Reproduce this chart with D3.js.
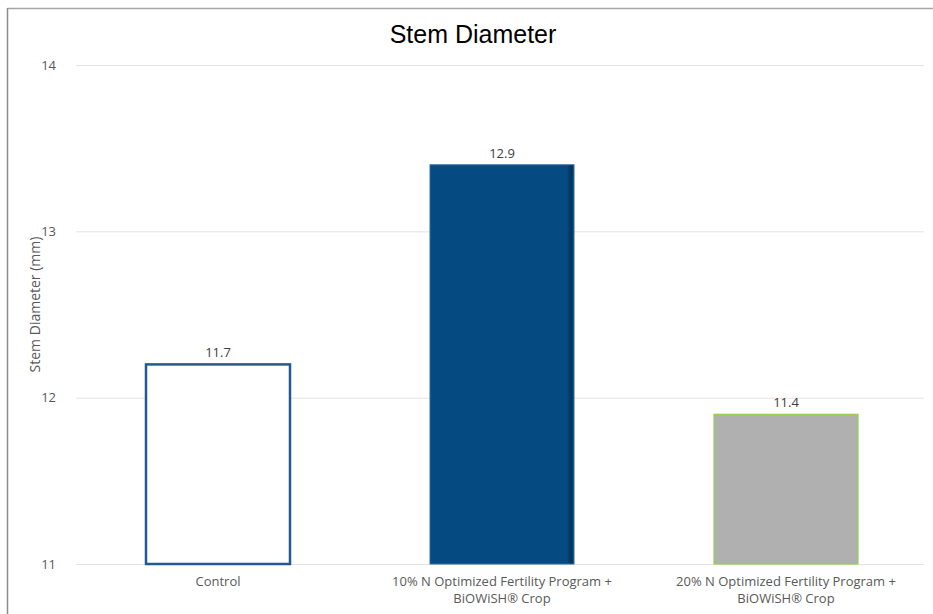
<!DOCTYPE html>
<html>
<head>
<meta charset="utf-8">
<script src="https://cdn.jsdelivr.net/npm/d3@7"></script>
<style>
  html, body { margin: 0; padding: 0; background: #fff; }
  svg { display: block; }
</style>
</head>
<body>
<svg id="chart" width="933" height="614"></svg>
<script>
// Treatments and their mean stem diameter (mm)
const categories = [
  ["Control"],
  ["10% N Optimized Fertility Program +", "BiOWiSH\u00AE Crop"],
  ["20% N Optimized Fertility Program +", "BiOWiSH\u00AE Crop"]
];
const values = [11.7, 12.9, 11.4];
const valueLabels = ["11.7", "12.9", "11.4"];

// Gridline positions and the labels printed beside them
const yTickValues = [10.5, 11.5, 12.5, 13.5];
const yTickLabels = ["11", "12", "13", "14"];

const title = "Stem Diameter";
const yTitle = "Stem Diameter (mm)";

const W = 933, H = 614;
const margin = { left: 76, right: 5, top: 65, bottom: 50 };
const svg = d3.select("#chart");
const bodyFont = "'Open Sans', 'Noto Sans', sans-serif";

const x = d3.scaleBand()
  .domain(d3.range(categories.length))
  .range([margin.left, W - margin.right])
  .paddingInner(0.493)
  .paddingOuter(0.2465);

const y = d3.scaleLinear()
  .domain([10.5, 13.5])
  .range([H - margin.bottom, margin.top]);

// gradient giving the shaded right edge of the filled bar
const defs = svg.append("defs");
const grad = defs.append("linearGradient").attr("id", "navyBar")
  .attr("x1", "0").attr("x2", "1").attr("y1", "0").attr("y2", "0");
grad.append("stop").attr("offset", "0%").attr("stop-color", "#064a82");
grad.append("stop").attr("offset", "95%").attr("stop-color", "#064a82");
grad.append("stop").attr("offset", "98%").attr("stop-color", "#03325c");
grad.append("stop").attr("offset", "100%").attr("stop-color", "#05406f");

// chart frame
svg.append("line").attr("x1", 7.5).attr("x2", W).attr("y1", 8.5).attr("y2", 8.5)
  .attr("stroke", "#a6a6a6").attr("stroke-width", 1.5);
svg.append("line").attr("x1", 7.5).attr("x2", 7.5).attr("y1", 8).attr("y2", H)
  .attr("stroke", "#8c8c8c").attr("stroke-width", 1.5);

// gridlines + tick labels
const yAxis = d3.axisLeft(y)
  .tickValues(yTickValues)
  .tickFormat((d, i) => yTickLabels[i])
  .tickSize(-(W - margin.left - 4 - margin.right))
  .tickPadding(20);

const gy = svg.append("g")
  .attr("transform", `translate(${margin.left},0)`)
  .call(yAxis);
gy.select(".domain").remove();
gy.selectAll(".tick line").attr("stroke", "#e3e3e3").attr("stroke-width", 1);
gy.selectAll(".tick text")
  .attr("fill", "#595959")
  .style("font-family", bodyFont)
  .style("font-size", "13px");

// bars
const styles = [
  { fill: "#ffffff", stroke: "#1f5a96", sw: 2.5 },
  { fill: "url(#navyBar)", stroke: "#2d6aa3", sw: 1 },
  { fill: "#b0b0b0", stroke: "#92d050", sw: 1.2 }
];

svg.append("g").selectAll("rect")
  .data(values)
  .join("rect")
  .attr("x", (d, i) => x(i))
  .attr("y", d => y(d))
  .attr("width", x.bandwidth())
  .attr("height", d => y(10.5) - y(d))
  .attr("fill", (d, i) => styles[i].fill)
  .attr("stroke", (d, i) => styles[i].stroke)
  .attr("stroke-width", (d, i) => styles[i].sw);

// value labels
svg.append("g").selectAll("text")
  .data(values)
  .join("text")
  .attr("x", (d, i) => x(i) + x.bandwidth() / 2)
  .attr("y", d => y(d) - 7)
  .attr("text-anchor", "middle")
  .attr("fill", "#404040")
  .style("font-family", bodyFont)
  .style("font-size", "13px")
  .text((d, i) => valueLabels[i]);

// category labels
const cat = svg.append("g").selectAll("text")
  .data(categories)
  .join("text")
  .attr("text-anchor", "middle")
  .attr("fill", "#595959")
  .style("font-family", bodyFont)
  .style("font-size", "13px");
cat.each(function (lines, i) {
  const t = d3.select(this);
  lines.forEach((ln, j) => {
    t.append("tspan")
      .attr("x", x(i) + x.bandwidth() / 2)
      .attr("y", 586 + j * 17)
      .text(ln);
  });
});

// y-axis title
svg.append("text")
  .attr("transform", `translate(40,${(y(10.5) + y(13.5)) / 2 - 10}) rotate(-90)`)
  .attr("text-anchor", "middle")
  .attr("fill", "#595959")
  .style("font-family", bodyFont)
  .style("font-size", "14px")
  .text(yTitle);

// chart title
svg.append("text")
  .attr("x", 473)
  .attr("y", 43)
  .attr("text-anchor", "middle")
  .attr("fill", "#000")
  .style("font-family", "'Liberation Sans', Arial, sans-serif")
  .style("font-size", "25px")
  .text(title);
</script>
</body>
</html>
